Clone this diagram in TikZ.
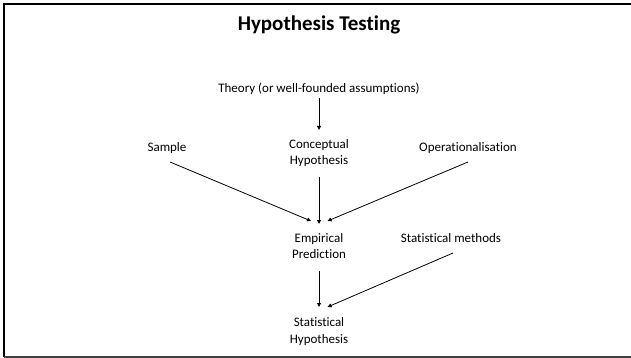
\documentclass[tikz,border=0pt]{standalone}
\usepackage{fontspec}
\setmainfont{Carlito}[Ligatures=NoCommon]
\usetikzlibrary{arrows.meta}
\begin{document}
\begin{tikzpicture}[x=1pt,y=-1pt,
  lbl/.style={font=\fontsize{13}{16.5}\selectfont, align=center, inner sep=0pt},
  conn/.style={line width=0.8pt, -{Triangle[length=4pt,width=3.8pt]}}]
\useasboundingbox (0,0) rectangle (631,358);
\fill[white] (0,0) rectangle (631,358);
% frame
\draw[line width=1.9pt] (634,3.8) -- (4.2,3.8) -- (4.2,357);
\draw[line width=1.4pt, black!75] (4.2,356.8) -- (634,356.8);
% title
\node[font=\fontsize{21}{24}\selectfont\bfseries, inner sep=0pt] (title) at (319,25) {Hypothesis Testing};
% nodes
\node[lbl] (theory) at (319,89) {Theory (or well-founded assumptions)};
\node[lbl] (concept) at (319,153) {Conceptual\\Hypothesis};
\node[lbl] (sample) at (167,148) {Sample};
\node[lbl] (oper) at (468,148) {Operationalisation};
\node[lbl] (emp) at (319,246) {Empirical\\Prediction};
\node[lbl] (meth) at (451,238) {Statistical methods};
\node[lbl] (stat) at (319,331.5) {Statistical\\Hypothesis};
% connector endpoints
\coordinate (t1) at (319,98);
\coordinate (t2) at (319,130);
\coordinate (s1) at (170,162);
\coordinate (s2) at (311,221);
\coordinate (c1) at (319,177);
\coordinate (c2) at (319,224);
\coordinate (o1) at (468,162);
\coordinate (o2) at (327.5,221);
\coordinate (e1) at (319,271);
\coordinate (e2) at (319,307);
\coordinate (m1) at (453,253);
\coordinate (m2) at (327.5,307);
\draw[conn] (t1) -- (t2);
\draw[conn] (s1) -- (s2);
\draw[conn] (c1) -- (c2);
\draw[conn] (o1) -- (o2);
\draw[conn] (e1) -- (e2);
\draw[conn] (m1) -- (m2);
\end{tikzpicture}
\end{document}
